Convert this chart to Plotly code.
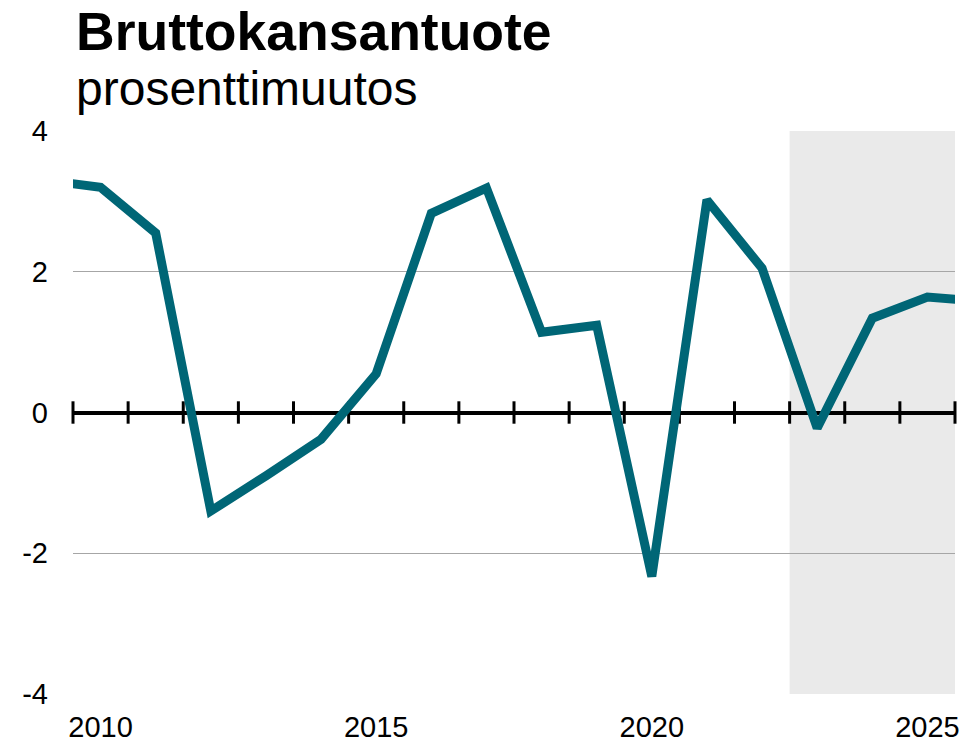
import numpy as np
import plotly.graph_objects as go

# Data
years = [2009, 2010, 2011, 2012, 2013, 2014, 2015, 2016, 2017, 2018,
         2019, 2020, 2021, 2022, 2023, 2024, 2025, 2026]
gdp_change = [3.3, 3.2, 2.55, -1.4, -0.9, -0.38, 0.55, 2.83, 3.19, 1.14,
              1.24, -2.33, 3.02, 2.05, -0.22, 1.34, 1.64, 1.58]
x_tickvals = [2010, 2015, 2020, 2025]
x_ticktext = ["2010", "2015", "2020", "2025"]
y_tickvals = [-4, -2, 0, 2, 4]
y_ticktext = ["-4", "-2", "0", "2", "4"]
forecast_start = 2022.5
x_range = [2009.5, 2025.5]

title_text = "Bruttokansantuote"
subtitle_text = "prosenttimuutos"

FONT = "Arial, 'Liberation Sans', sans-serif"
LINE_COLOR = "#006676"

# year boundaries for zero-line tick marks
boundaries = list(np.arange(x_range[0], x_range[1] + 0.01, 1.0))

fig = go.Figure()

fig.add_trace(go.Scatter(
    x=boundaries, y=[0] * len(boundaries),
    mode="markers",
    marker=dict(symbol="line-ns", size=16, line=dict(width=3, color="black"), color="black"),
    cliponaxis=False, hoverinfo="skip", showlegend=False,
))

fig.add_trace(go.Scatter(
    x=years, y=gdp_change,
    mode="lines",
    line=dict(color=LINE_COLOR, width=9),
    showlegend=False,
))

fig.add_shape(type="rect", xref="x", yref="paper",
              x0=forecast_start, x1=x_range[1], y0=0, y1=1,
              fillcolor="#EAEAEA", line=dict(width=0), layer="below")

fig.update_layout(
    width=969, height=735,
    margin=dict(l=65, r=22, t=123, b=49),
    paper_bgcolor="white", plot_bgcolor="white",
    font=dict(family=FONT, size=29, color="black"),
    xaxis=dict(range=x_range, tickvals=x_tickvals, ticktext=x_ticktext, ticks="",
               showgrid=False, showline=False, zeroline=False, ticklabelstandoff=13,
               tickfont=dict(size=29), automargin=False),
    yaxis=dict(range=[-4, 4], tickvals=y_tickvals, ticktext=y_ticktext, ticks="",
               showgrid=True, gridcolor="#A6A6A6", gridwidth=1, zeroline=True,
               zerolinecolor="black", zerolinewidth=4, showline=False,
               ticklabelstandoff=24, tickfont=dict(size=29), automargin=False),
    annotations=[
        dict(text="<b>%s</b>" % title_text, xref="paper", yref="paper",
             x=0.001, y=1.1215, xanchor="left", yanchor="bottom", showarrow=False,
             font=dict(size=53.5, family=FONT, color="black")),
        dict(text=subtitle_text, xref="paper", yref="paper",
             x=0.001, y=1.024, xanchor="left", yanchor="bottom", showarrow=False,
             font=dict(size=48, family=FONT, color="black")),
    ],
)

fig.write_html("out.html")
